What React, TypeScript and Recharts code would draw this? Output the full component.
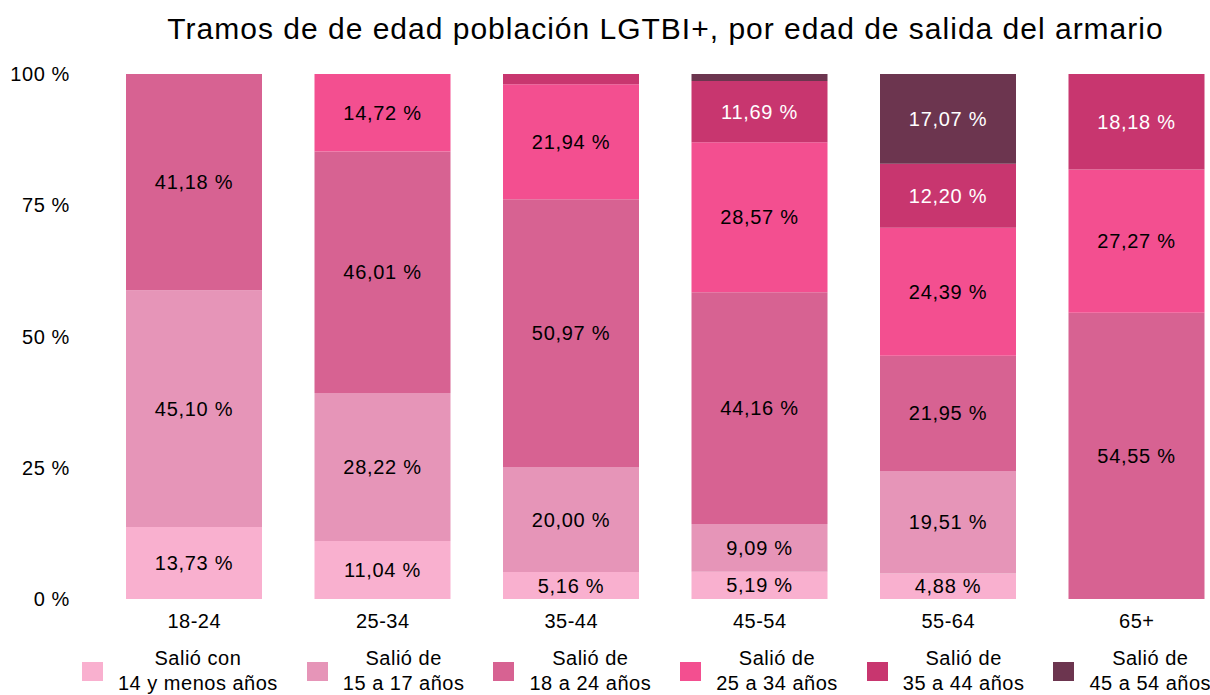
import React from 'react';
import { BarChart, Bar, XAxis, YAxis, LabelList } from 'recharts';

const categories = ['18-24', '25-34', '35-44', '45-54', '55-64', '65+'];

const seriesNames = [
  ['Salió con', '14 y menos años'],
  ['Salió de', '15 a 17 años'],
  ['Salió de', '18 a 24 años'],
  ['Salió de', '25 a 34 años'],
  ['Salió de', '35 a 44 años'],
  ['Salió de', '45 a 54 años'],
];

const menos14 = [13.73, 11.04, 5.16, 5.19, 4.88, 0];
const de15a17 = [45.1, 28.22, 20.0, 9.09, 19.51, 0];
const de18a24 = [41.18, 46.01, 50.97, 44.16, 21.95, 54.55];
const de25a34 = [0, 14.72, 21.94, 28.57, 24.39, 27.27];
const de35a44 = [0, 0, 1.93, 11.69, 12.2, 18.18];
const de45a54 = [0, 0, 0, 1.3, 17.07, 0];

const seriesValues = [menos14, de15a17, de18a24, de25a34, de35a44, de45a54];
const colors = ['#f9b0cf', '#e695b8', '#d76292', '#f34f90', '#c8366f', '#6c354f'];
const labelColors = ['#000', '#000', '#000', '#000', '#fff', '#fff'];
const yTicks = [0, 25, 50, 75, 100];

const data = categories.map((cat, i) => {
  const row: Record<string, string | number> = { cat };
  seriesValues.forEach((vals, s) => {
    row['s' + s] = vals[i];
  });
  return row;
});

const FONT = '"Liberation Sans", Arial, Helvetica, sans-serif';

const fmt = (v: any) => {
  const n = Number(v);
  if (!n || n < 3) return '';
  return n.toFixed(2).replace('.', ',') + ' %';
};

export default function App() {
  return (
    <div
      style={{
        position: 'fixed',
        top: 0,
        left: 0,
        width: 1210,
        height: 695,
        overflow: 'hidden',
        background: '#fff',
        fontFamily: FONT,
      }}
    >
      <div
        style={{
          position: 'absolute',
          left: 100,
          width: 1131,
          top: 12,
          textAlign: 'center',
          fontSize: 30,
          letterSpacing: 1,
          color: '#000',
        }}
      >
        Tramos de de edad población LGTBI+, por edad de salida del armario
      </div>
      <BarChart
        width={1231}
        height={695}
        data={data}
        margin={{ top: 74, right: 0, bottom: 66, left: 0 }}
        barSize={136}
      >
        <XAxis
          dataKey="cat"
          axisLine={false}
          tickLine={false}
          tickMargin={9}
          height={30}
          tick={{ fill: '#000', fontSize: 20, fontFamily: FONT, style: { letterSpacing: 0.5 } }}
        />
        <YAxis
          domain={[0, 100]}
          ticks={yTicks}
          width={100}
          axisLine={false}
          tickLine={false}
          tickMargin={24}
          tickFormatter={(v) => `${v} %`}
          tick={{ fill: '#000', fontSize: 20, fontFamily: FONT, style: { letterSpacing: 0.6 } }}
        />
        {seriesValues.map((_, s) => (
          <Bar
            key={s}
            dataKey={'s' + s}
            stackId="a"
            fill={colors[s]}
            isAnimationActive={false}
          >
            <LabelList
              dataKey={'s' + s}
              position="center"
              formatter={fmt}
              fill={labelColors[s]}
              fontSize={20}
              fontFamily={FONT}
              style={{ letterSpacing: 0.7 }}
            />
          </Bar>
        ))}
      </BarChart>
      <div
        style={{
          position: 'absolute',
          top: 646,
          left: 82,
          display: 'flex',
          gap: 29,
          whiteSpace: 'nowrap',
        }}
      >
        {seriesNames.map((lines, s) => (
          <div key={s} style={{ display: 'flex', alignItems: 'center' }}>
            <div style={{ width: 21, height: 19, background: colors[s], marginRight: 15 }} />
            <div
              style={{
                textAlign: 'center',
                fontSize: 20,
                lineHeight: '25px',
                letterSpacing: 0.5,
                color: '#000',
              }}
            >
              <div>{lines[0]}</div>
              <div>{lines[1]}</div>
            </div>
          </div>
        ))}
      </div>
    </div>
  );
}
